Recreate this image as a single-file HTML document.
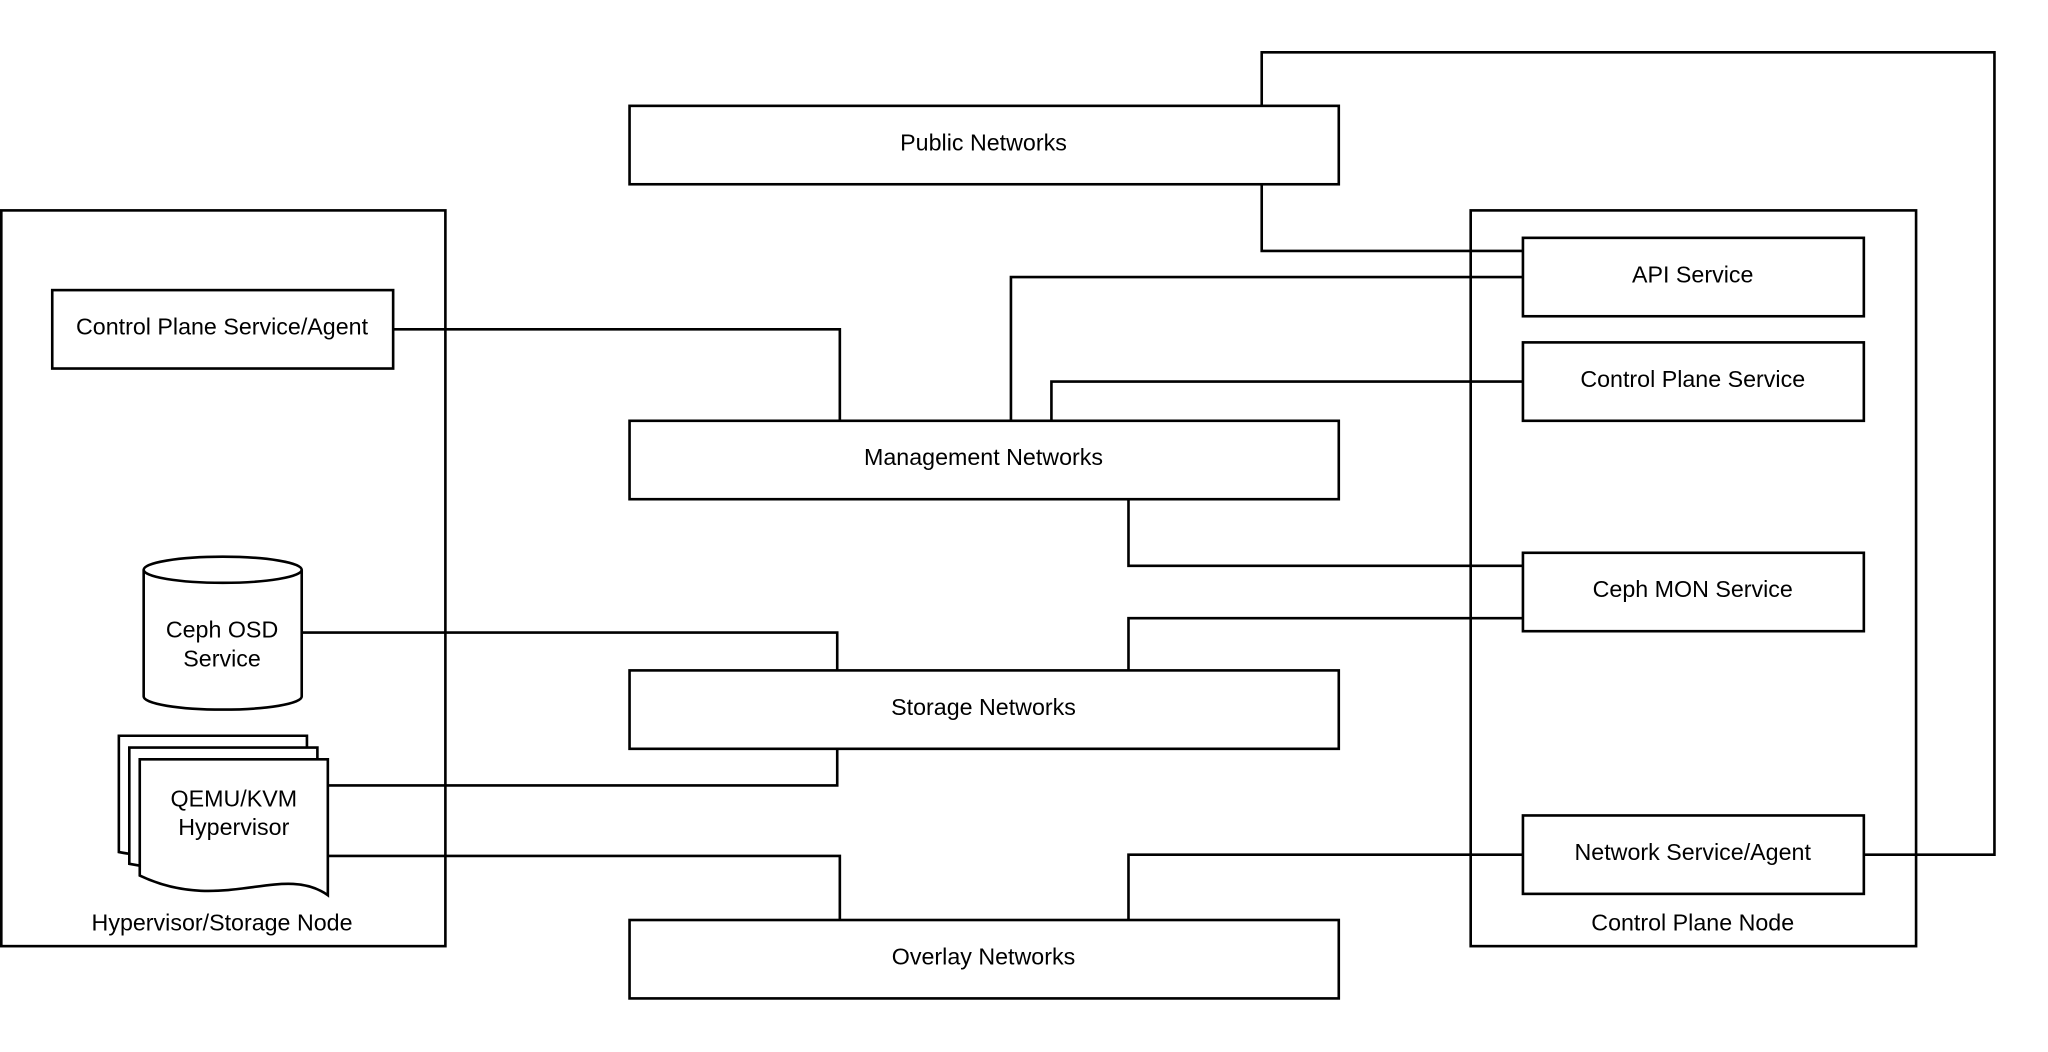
<!DOCTYPE html>
<html><head><style>html,body{margin:0;padding:0;background:#fff}svg{display:block}</style></head>
<body>
<svg width="2048" height="1052" viewBox="0 0 1568 805" preserveAspectRatio="none" xmlns="http://www.w3.org/2000/svg" font-family="Liberation Sans, Arial, sans-serif" font-size="17.8" text-anchor="middle">
<g fill="none" stroke="#000" stroke-width="2">
<rect x="1" y="161" width="340" height="563" fill="#fff"/>
<rect x="1126" y="161" width="341" height="563" fill="#fff"/>
<polyline points="966,81 966,40 1527,40 1527,654 1427,654"/>
<polyline points="966,141 966,192 1166,192"/>
<polyline points="774,322 774,212 1166,212"/>
<polyline points="805,322 805,292 1166,292"/>
<polyline points="301,252 643,252 643,322"/>
<polyline points="864,382 864,433 1166,433"/>
<polyline points="864,513 864,473 1166,473"/>
<polyline points="231,484 641,484 641,513"/>
<polyline points="251,601 641,601 641,573"/>
<polyline points="251,655 643,655 643,704"/>
<polyline points="864,704 864,654 1166,654"/>
<rect x="482" y="81" width="543" height="60" fill="#fff"/>
<rect x="482" y="322" width="543" height="60" fill="#fff"/>
<rect x="482" y="513" width="543" height="60" fill="#fff"/>
<rect x="482" y="704" width="543" height="60" fill="#fff"/>
<rect x="40" y="222" width="261" height="60" fill="#fff"/>
<rect x="1166" y="182" width="261" height="60" fill="#fff"/>
<rect x="1166" y="262" width="261" height="60" fill="#fff"/>
<rect x="1166" y="423" width="261" height="60" fill="#fff"/>
<rect x="1166" y="624" width="261" height="60" fill="#fff"/>
<path d="M110,436 L110,533 A60.5,10 0 0 0 231,533 L231,436" fill="#fff"/>
<ellipse cx="170.5" cy="436" rx="60.5" ry="10" fill="#fff"/>
<path d="M91,563 L235,563 L235,660 C200,640 160,665 91,652 Z" fill="#fff"/>
<path d="M99,572 L243,572 L243,670 C208,650 168,675 99,661 Z" fill="#fff"/>
<path d="M107,581 L251,581 L251,685 C216,660 170,700 107,670 Z" fill="#fff"/>
</g>
<g fill="#000">
<text x="753" y="115">Public Networks</text>
<text x="753" y="356">Management Networks</text>
<text x="753" y="547">Storage Networks</text>
<text x="753" y="738">Overlay Networks</text>
<text x="170" y="256">Control Plane Service/Agent</text>
<text x="1296" y="216">API Service</text>
<text x="1296" y="296">Control Plane Service</text>
<text x="1296" y="457">Ceph MON Service</text>
<text x="1296" y="658">Network Service/Agent</text>
<text x="170" y="488">Ceph OSD</text>
<text x="170" y="510">Service</text>
<text x="179" y="617">QEMU/KVM</text>
<text x="179" y="639">Hypervisor</text>
<text x="170" y="712">Hypervisor/Storage Node</text>
<text x="1296" y="712">Control Plane Node</text>
</g>
</svg>
</body></html>
